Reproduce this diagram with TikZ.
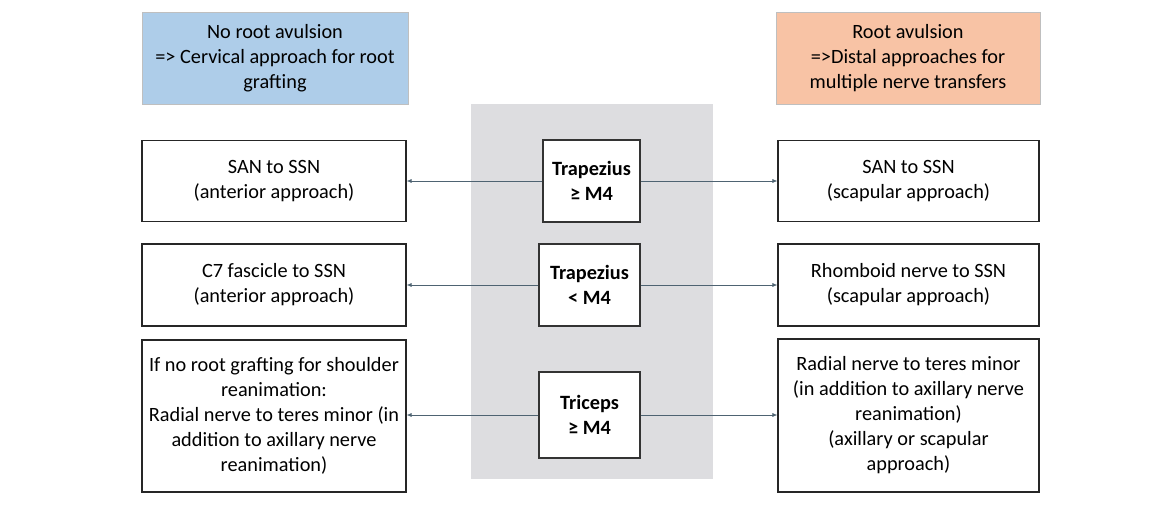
\documentclass[tikz,border=0pt]{standalone}
\usepackage{fontspec}
\setmainfont{Carlito}
\usetikzlibrary{arrows.meta}
\definecolor{hdrblue}{HTML}{AECDE9}
\definecolor{hdrorange}{HTML}{F8C3A5}
\definecolor{panelgray}{HTML}{DDDDE0}
\definecolor{linecol}{HTML}{4E6372}
\tikzset{
  x=1pt, y=-1pt,
  every node/.style={font=\fontsize{20.3}{25}\selectfont, align=center, inner sep=2pt},
  hdr/.style={draw=black!25, line width=0.8pt, minimum height=92pt},
  box/.style={draw=black!85, line width=1.1pt, fill=white, minimum width=264pt},
  rbox/.style={box, minimum width=261pt},
  cbox/.style={draw=black!80, line width=1.1pt, fill=white, font=\fontsize{20.3}{25}\selectfont\bfseries},
  conn/.style={draw=linecol, line width=0.7pt, -{Latex[length=5pt,width=4pt]}}
}
\begin{document}
\begin{tikzpicture}
\useasboundingbox (0,0) rectangle (1165,527);
\fill[white] (0,0) rectangle (1165,527);
\node[hdr, fill=hdrblue, minimum width=266pt] (blue) at (275,58) {No root avulsion\\=> Cervical approach for root\\grafting};
\node[hdr, fill=hdrorange, minimum width=264pt] (orange) at (908,58) {Root avulsion\\=>Distal approaches for\\multiple nerve transfers};
\node[fill=panelgray, minimum width=242pt, minimum height=375pt, inner sep=0pt] (panel) at (592,291.5) {};
\node[box, minimum height=81pt] (l1) at (274,181) {SAN to SSN\\(anterior approach)};
\node[box, minimum height=82pt] (l2) at (274,285) {C7 fascicle to SSN\\(anterior approach)};
\node[box, minimum height=152pt] (l3) at (274,416) {If no root grafting for shoulder\\reanimation:\\Radial nerve to teres minor (in\\addition to axillary nerve\\reanimation)};
\node[cbox, minimum width=97pt, minimum height=82pt] (c1) at (591.5,181) {Trapezius\\≥ M4};
\node[cbox, minimum width=101pt, minimum height=82pt] (c2) at (589.5,285) {Trapezius\\< M4};
\node[cbox, minimum width=101pt, minimum height=86pt] (c3) at (589.5,415) {Triceps\\≥ M4};
\node[rbox, minimum height=81pt] (r1) at (908.5,181) {SAN to SSN\\(scapular approach)};
\node[rbox, minimum height=82pt] (r2) at (908.5,285) {Rhomboid nerve to SSN\\(scapular approach)};
\node[rbox, minimum height=153pt] (r3) at (908.5,415.5) {Radial nerve to teres minor\\(in addition to axillary nerve\\reanimation)\\(axillary or scapular\\approach)};
\draw[conn] (c1.west) -- (c1.west -| l1.east);
\draw[conn] (c1.east) -- (c1.east -| r1.west);
\draw[conn] (c2.west) -- (c2.west -| l2.east);
\draw[conn] (c2.east) -- (c2.east -| r2.west);
\draw[conn] (c3.west) -- (c3.west -| l3.east);
\draw[conn] (c3.east) -- (c3.east -| r3.west);
\end{tikzpicture}
\end{document}
